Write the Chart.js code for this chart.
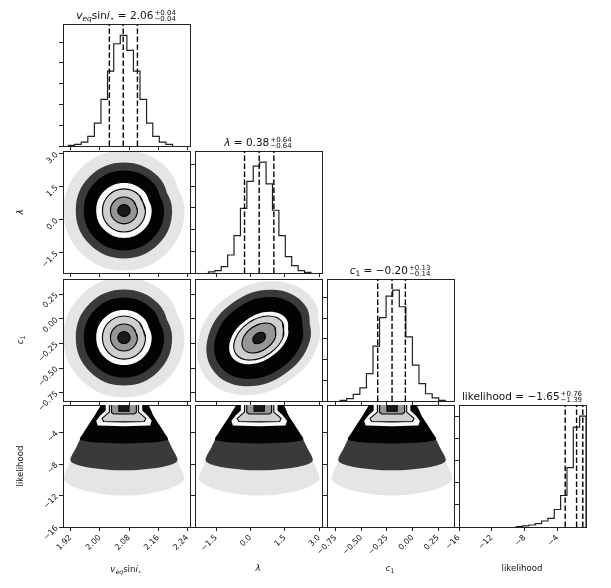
<!DOCTYPE html>
<html>
<head>
<meta charset="utf-8">
<title>corner plot</title>
<script src="https://cdn.jsdelivr.net/npm/chart.js@4.4.1/dist/chart.umd.min.js"></script>
<style>
  body { margin: 0; background: #fff; }
  #fig { position: relative; width: 611px; height: 588px; overflow: hidden; font-family: "DejaVu Sans", sans-serif; color: #111; }
  #fig canvas { position: absolute; }
  .ttl { position: absolute; font-size: 10.5px; line-height: 12px; white-space: nowrap; transform: translateX(-50%); }
  .pm { display: inline-block; font-size: 7px; line-height: 6px; vertical-align: -1.5px; margin-left: 1px; }
  .pm span { display: block; }
  .lab { position: absolute; font-size: 8.6px; line-height: 10px; white-space: nowrap; transform: translate(-50%, -50%); }
  .rot { transform: translate(-50%, -50%) rotate(-90deg); }
  sub { font-size: 0.72em; vertical-align: -0.3em; line-height: 0; }
</style>
</head>
<body>
<div id="fig">
  <div class="ttl" style="left:126px;top:9px"><i>v</i><sub><i>eq</i></sub>sin<i>i</i><sub>⋆</sub> = 2.06<span class="pm"><span>+0.04</span><span>−0.04</span></span></div>
  <div class="ttl" style="left:258px;top:136px"><i>λ</i> = 0.38<span class="pm"><span>+0.64</span><span>−0.64</span></span></div>
  <div class="ttl" style="left:390px;top:264px"><i>c</i><sub>1</sub> = −0.20<span class="pm"><span>+0.13</span><span>−0.14</span></span></div>
  <div class="ttl" style="left:522px;top:390px">likelihood = −1.65<span class="pm"><span>+0.76</span><span>−1.39</span></span></div>

  <div class="lab" style="left:126px;top:569px"><i>v</i><sub><i>eq</i></sub>sin<i>i</i><sub>⋆</sub></div>
  <div class="lab" style="left:258px;top:568px"><i>λ</i></div>
  <div class="lab" style="left:390px;top:568px"><i>c</i><sub>1</sub></div>
  <div class="lab" style="left:522px;top:568px">likelihood</div>

  <div class="lab rot" style="left:20px;top:212px"><i>λ</i></div>
  <div class="lab rot" style="left:20px;top:340px"><i>c</i><sub>1</sub></div>
  <div class="lab rot" style="left:20px;top:466px">likelihood</div>
</div>
<script>
// axes
var vsiniRange = [1.899, 2.247];
var lambdaRange = [-2.42, 3.12];
var c1Range = [-0.835, 0.405];
var likeRange = [-16, -0.5];

var vsiniTicks = [1.92, 2.00, 2.08, 2.16, 2.24];
var vsiniLabels = ['1.92', '2.00', '2.08', '2.16', '2.24'];
var lambdaTicks = [-1.5, 0.0, 1.5, 3.0];
var lambdaLabels = ['\u22121.5', '0.0', '1.5', '3.0'];
var c1Ticks = [-0.75, -0.50, -0.25, 0.00, 0.25];
var c1Labels = ['\u22120.75', '\u22120.50', '\u22120.25', '0.00', '0.25'];
var likeTicks = [-16, -12, -8, -4];
var likeLabels = ['\u221216', '\u221212', '\u22128', '\u22124'];
var histTicks = [0, 1000, 2000, 3000, 4000, 5000];

// 1d histograms
var vsiniEdges = [1.914, 1.931, 1.949, 1.967, 1.985, 2.003, 2.021, 2.038, 2.056, 2.074, 2.092, 2.110, 2.128, 2.145, 2.163, 2.181, 2.199];
var vsiniCounts = [30, 80, 190, 460, 1100, 2240, 3600, 4920, 5320, 4600, 3600, 2240, 1100, 460, 190, 80];
var vsiniQuant = [2.026, 2.064, 2.103];
var vsiniTop = 5870;

var lambdaEdges = [-1.835, -1.556, -1.276, -0.997, -0.717, -0.438, -0.158, 0.121, 0.401, 0.680, 0.960, 1.239, 1.519, 1.798, 2.078, 2.357, 2.637];
var lambdaCounts = [50, 110, 290, 830, 1720, 2980, 4220, 4920, 5110, 4110, 2890, 1720, 750, 340, 110, 30];
var lambdaQuant = [-0.26, 0.38, 1.02];
var lambdaTop = 5620;

var c1Edges = [-0.707, -0.643, -0.579, -0.514, -0.450, -0.386, -0.322, -0.258, -0.193, -0.129, -0.065, -0.001, 0.063, 0.127, 0.192, 0.256, 0.320];
var c1Counts = [30, 110, 320, 630, 1320, 2650, 4030, 5060, 5350, 4550, 3100, 1730, 840, 350, 150, 30];
var c1Quant = [-0.34, -0.20, -0.07];
var c1Top = 5890;

var likeEdges = [-9.025, -8.25, -7.475, -6.70, -5.925, -5.15, -4.375, -3.60, -2.825, -2.05, -1.275, -0.50];
var likeCounts = [20, 50, 90, 150, 270, 390, 790, 1420, 2680, 4500, 5000];
var likeQuant = [-3.04, -1.65, -0.89];
var likeTop = 5500;

// 2d panels: outer scatter cloud, dense cloud, solid core, then the contour levels
// (round outlines repeat their first two vertices so the curve closes smoothly)
var vlFuzz = [[2.232,0.42],[2.183,2.35],[2.066,3.15],[1.949,2.35],[1.900,0.42],[1.949,-1.51],[2.066,-2.31],[2.183,-1.51],[2.232,0.42],[2.183,2.35]];
var vlHaze = [[2.198,0.42],[2.160,1.96],[2.066,2.60],[1.972,1.96],[1.934,0.42],[1.972,-1.12],[2.066,-1.76],[2.160,-1.12],[2.198,0.42],[2.160,1.96]];
var vlCore = [[2.176,0.42],[2.144,1.71],[2.066,2.24],[1.988,1.71],[1.956,0.42],[1.988,-0.87],[2.066,-1.40],[2.144,-0.87],[2.176,0.42],[2.144,1.71]];
var vlLev0 = [[2.142,0.42],[2.120,1.30],[2.066,1.67],[2.012,1.30],[1.990,0.42],[2.012,-0.46],[2.066,-0.83],[2.120,-0.46],[2.142,0.42],[2.120,1.30]];
var vlLev1 = [[2.125,0.42],[2.108,1.11],[2.066,1.40],[2.024,1.11],[2.007,0.42],[2.024,-0.27],[2.066,-0.56],[2.108,-0.27],[2.125,0.42],[2.108,1.11]];
var vlLev2 = [[2.103,0.42],[2.092,0.85],[2.066,1.03],[2.040,0.85],[2.029,0.42],[2.040,-0.01],[2.066,-0.19],[2.092,-0.01],[2.103,0.42],[2.092,0.85]];
var vlLev3 = [[2.083,0.42],[2.078,0.61],[2.066,0.69],[2.054,0.61],[2.049,0.42],[2.054,0.23],[2.066,0.15],[2.078,0.23],[2.083,0.42],[2.078,0.61]];

var vcFuzz = [[2.232,-0.19],[2.183,0.241],[2.066,0.42],[1.949,0.241],[1.900,-0.19],[1.949,-0.621],[2.066,-0.80],[2.183,-0.621],[2.232,-0.19],[2.183,0.241]];
var vcHaze = [[2.198,-0.19],[2.160,0.155],[2.066,0.298],[1.972,0.155],[1.934,-0.19],[1.972,-0.535],[2.066,-0.678],[2.160,-0.535],[2.198,-0.19],[2.160,0.155]];
var vcCore = [[2.176,-0.19],[2.144,0.097],[2.066,0.217],[1.988,0.097],[1.956,-0.19],[1.988,-0.477],[2.066,-0.597],[2.144,-0.477],[2.176,-0.19],[2.144,0.097]];
var vcLev0 = [[2.142,-0.19],[2.120,0.008],[2.066,0.09],[2.012,0.008],[1.990,-0.19],[2.012,-0.388],[2.066,-0.47],[2.120,-0.388],[2.142,-0.19],[2.120,0.008]];
var vcLev1 = [[2.125,-0.19],[2.108,-0.036],[2.066,0.029],[2.024,-0.036],[2.007,-0.19],[2.024,-0.345],[2.066,-0.409],[2.108,-0.345],[2.125,-0.19],[2.108,-0.036]];
var vcLev2 = [[2.103,-0.19],[2.092,-0.093],[2.066,-0.053],[2.040,-0.093],[2.029,-0.19],[2.040,-0.287],[2.066,-0.327],[2.092,-0.287],[2.103,-0.19],[2.092,-0.093]];
var vcLev3 = [[2.083,-0.19],[2.078,-0.147],[2.066,-0.129],[2.054,-0.147],[2.049,-0.19],[2.054,-0.233],[2.066,-0.251],[2.078,-0.233],[2.083,-0.19],[2.078,-0.147]];

var lcFuzz = [[2.757,0.190],[2.989,-0.229],[1.693,-0.628],[-0.372,-0.773],[-1.997,-0.580],[-2.229,-0.161],[-0.933,0.238],[1.132,0.383],[2.757,0.190],[2.989,-0.229]];
var lcHaze = [[2.397,0.132],[2.591,-0.223],[1.491,-0.561],[-0.260,-0.685],[-1.637,-0.522],[-1.831,-0.167],[-0.731,0.171],[1.020,0.295],[2.397,0.132],[2.591,-0.223]];
var lcCore = [[2.109,0.085],[2.263,-0.215],[1.314,-0.503],[-0.182,-0.611],[-1.349,-0.475],[-1.503,-0.175],[-0.554,0.113],[0.942,0.221],[2.109,0.085],[2.263,-0.215]];
var lcLev0 = [[1.569,-0.003],[1.613,-0.188],[0.935,-0.378],[-0.068,-0.461],[-0.809,-0.387],[-0.853,-0.202],[-0.175,-0.012],[0.828,0.071],[1.569,-0.003],[1.613,-0.188]];
var lcLev1 = [[1.388,-0.032],[1.423,-0.188],[0.847,-0.349],[-0.003,-0.419],[-0.628,-0.358],[-0.663,-0.202],[-0.087,-0.041],[0.763,0.029],[1.388,-0.032],[1.423,-0.188]];
var lcLev2 = [[1.064,-0.084],[1.087,-0.190],[0.696,-0.299],[0.119,-0.347],[-0.304,-0.306],[-0.327,-0.200],[0.064,-0.091],[0.641,-0.043],[1.064,-0.084],[1.087,-0.190]];
var lcLev3 = [[0.632,-0.154],[0.647,-0.196],[0.506,-0.237],[0.291,-0.253],[0.128,-0.236],[0.113,-0.194],[0.254,-0.153],[0.469,-0.137],[0.632,-0.154],[0.647,-0.196]];

var vkFuzz = [[2.010,0],[1.984,-2],[1.956,-4],[1.934,-6],[1.916,-8],[1.902,-10],[1.946,-11.2],[2.006,-11.8],[2.066,-12],[2.126,-11.8],[2.186,-11.2],[2.230,-10],[2.216,-8],[2.198,-6],[2.176,-4],[2.148,-2],[2.122,0],[2.010,0]];
var vkHaze = [[2.010,0],[1.984,-2],[1.956,-4],[1.934,-6],[1.920,-7.6],[1.966,-8.4],[2.066,-8.8],[2.166,-8.4],[2.212,-7.6],[2.198,-6],[2.176,-4],[2.148,-2],[2.122,0],[2.010,0]];
var vkCore = [[2.010,0],[1.984,-2],[1.956,-4],[1.946,-4.9],[2.006,-5.3],[2.066,-5.4],[2.126,-5.3],[2.186,-4.9],[2.176,-4],[2.148,-2],[2.122,0],[2.010,0]];
var vkLev0 = [[2.016,0],[2.016,-1.2],[2.002,-1.8],[1.990,-2.5],[1.994,-3.1],[2.066,-3.2],[2.138,-3.1],[2.142,-2.5],[2.130,-1.8],[2.116,-1.2],[2.116,0],[2.016,0]];
var vkLev1 = [[2.026,0],[2.026,-1.4],[2.006,-2.2],[2.010,-2.6],[2.066,-2.65],[2.122,-2.6],[2.126,-2.2],[2.106,-1.4],[2.106,0],[2.026,0]];
var vkLev2 = [[2.032,0],[2.032,-1.45],[2.038,-1.65],[2.094,-1.65],[2.100,-1.45],[2.100,0],[2.032,0]];
var vkLev3 = [[2.052,0],[2.052,-1.3],[2.080,-1.3],[2.080,0],[2.052,0]];

var lkFuzz = [[-0.513,0],[-0.928,-2],[-1.375,-4],[-1.725,-6],[-2.013,-8],[-2.236,-10],[-1.534,-11.2],[-0.577,-11.8],[0.38,-12],[1.337,-11.8],[2.294,-11.2],[2.996,-10],[2.773,-8],[2.485,-6],[2.135,-4],[1.688,-2],[1.273,0],[-0.513,0]];
var lkHaze = [[-0.513,0],[-0.928,-2],[-1.375,-4],[-1.725,-6],[-1.949,-7.6],[-1.215,-8.4],[0.38,-8.8],[1.975,-8.4],[2.709,-7.6],[2.485,-6],[2.135,-4],[1.688,-2],[1.273,0],[-0.513,0]];
var lkCore = [[-0.513,0],[-0.928,-2],[-1.375,-4],[-1.534,-4.9],[-0.577,-5.3],[0.38,-5.4],[1.337,-5.3],[2.294,-4.9],[2.135,-4],[1.688,-2],[1.273,0],[-0.513,0]];
var lkLev0 = [[-0.418,0],[-0.418,-1.2],[-0.641,-1.8],[-0.832,-2.5],[-0.768,-3.1],[0.38,-3.2],[1.528,-3.1],[1.592,-2.5],[1.401,-1.8],[1.178,-1.2],[1.178,0],[-0.418,0]];
var lkLev1 = [[-0.258,0],[-0.258,-1.4],[-0.577,-2.2],[-0.513,-2.6],[0.38,-2.65],[1.273,-2.6],[1.337,-2.2],[1.018,-1.4],[1.018,0],[-0.258,0]];
var lkLev2 = [[-0.162,0],[-0.162,-1.45],[-0.067,-1.65],[0.827,-1.65],[0.922,-1.45],[0.922,0],[-0.162,0]];
var lkLev3 = [[0.157,0],[0.157,-1.3],[0.603,-1.3],[0.603,0],[0.157,0]];

var ckFuzz = [[-0.400,0],[-0.493,-2],[-0.593,-4],[-0.672,-6],[-0.736,-8],[-0.786,-10],[-0.629,-11.2],[-0.415,-11.8],[-0.200,-12],[0.015,-11.8],[0.229,-11.2],[0.386,-10],[0.336,-8],[0.272,-6],[0.193,-4],[0.093,-2],[0.000,0],[-0.400,0]];
var ckHaze = [[-0.400,0],[-0.493,-2],[-0.593,-4],[-0.672,-6],[-0.722,-7.6],[-0.558,-8.4],[-0.200,-8.8],[0.158,-8.4],[0.322,-7.6],[0.272,-6],[0.193,-4],[0.093,-2],[0.000,0],[-0.400,0]];
var ckCore = [[-0.400,0],[-0.493,-2],[-0.593,-4],[-0.629,-4.9],[-0.415,-5.3],[-0.200,-5.4],[0.015,-5.3],[0.229,-4.9],[0.193,-4],[0.093,-2],[0.000,0],[-0.400,0]];
var ckLev0 = [[-0.379,0],[-0.379,-1.2],[-0.429,-1.8],[-0.472,-2.5],[-0.457,-3.1],[-0.200,-3.2],[0.057,-3.1],[0.072,-2.5],[0.029,-1.8],[-0.021,-1.2],[-0.021,0],[-0.379,0]];
var ckLev1 = [[-0.343,0],[-0.343,-1.4],[-0.415,-2.2],[-0.400,-2.6],[-0.200,-2.65],[0.000,-2.6],[0.015,-2.2],[-0.057,-1.4],[-0.057,0],[-0.343,0]];
var ckLev2 = [[-0.322,0],[-0.322,-1.45],[-0.300,-1.65],[-0.100,-1.65],[-0.078,-1.45],[-0.078,0],[-0.322,0]];
var ckLev3 = [[-0.250,0],[-0.250,-1.3],[-0.150,-1.3],[-0.150,0],[-0.250,0]];

Chart.defaults.font.family = '"DejaVu Sans", sans-serif';
Chart.defaults.color = '#111';
Chart.defaults.animation = false;

var fig = document.getElementById('fig');
var colLeft = [63, 195, 327, 459];
var rowTop = [24, 151, 279, 405];
var panelW = 127, panelH = 122;

var layerFill = ['rgba(0,0,0,0.1)', 'rgba(0,0,0,0.75)', 'rgba(0,0,0,0.95)', '#fbfbfb', '#cfcfcf', '#969696', '#1a1a1a'];
var layerLine = [null, null, null, null, '#000', '#000', '#000'];
var roundBend = [0.4, 0.4, 0.4, 0.4, 0.4, 0.4, 0.4];
var fanBend = [0.3, 0.3, 0.3, 0, 0, 0, 0];

function pts(list) {
    return list.map(function (p) { return {x: p[0], y: p[1]}; });
}

// later datasets are drawn underneath, so the innermost level goes first
function density(layers, bend) {
    var sets = [];
    for (var i = layers.length - 1; i >= 0; i--) {
        sets.push({
            data: pts(layers[i]),
            showLine: true,
            fill: 'shape',
            pointRadius: 0,
            backgroundColor: layerFill[i],
            borderColor: layerLine[i] || 'rgba(0,0,0,0)',
            borderWidth: layerLine[i] ? 1.1 : 0,
            tension: bend[i]
        });
    }
    return sets;
}

function stepData(edges, counts) {
    var out = [{x: edges[0], y: 0}];
    for (var i = 0; i < counts.length; i++) out.push({x: edges[i], y: counts[i]});
    out.push({x: edges[edges.length - 1], y: counts[counts.length - 1]});
    out.push({x: edges[edges.length - 1], y: 0});
    return out;
}

function histSets(edges, counts, quant, top) {
    var sets = quant.map(function (q) {
        return {data: [{x: q, y: 0}, {x: q, y: top}], showLine: true, pointRadius: 0,
            borderColor: '#000', borderWidth: 1.4, borderDash: [5.5, 2.5]};
    });
    sets.push({data: stepData(edges, counts), showLine: true, stepped: true, pointRadius: 0,
        borderColor: '#222', borderWidth: 1.2});
    return sets;
}

function tickAxis(pos, ax, showLabels, size) {
    return {
        type: 'linear',
        position: pos,
        min: ax.range[0],
        max: ax.range[1],
        afterBuildTicks: function (s) {
            s.ticks = ax.ticks.map(function (v) { return {value: v}; });
        },
        afterFit: function (s) {
            if (pos === 'bottom') s.height = size; else s.width = size;
        },
        ticks: {
            display: showLabels && !!ax.labels,
            autoSkip: false,
            minRotation: 45,
            maxRotation: 45,
            padding: 2,
            color: '#111',
            font: {size: 8},
            callback: function (v, i) { return ax.labels ? ax.labels[i] : ''; }
        },
        grid: {display: true, drawOnChartArea: false, drawTicks: true, tickLength: 4, color: '#222', lineWidth: 1},
        border: {display: true, color: '#222', width: 1}
    };
}

function edgeAxis(pos, size) {
    return {
        type: 'linear',
        position: pos,
        afterFit: function (s) {
            if (pos === 'top') s.height = size; else s.width = size;
        },
        ticks: {display: false},
        grid: {display: false, drawTicks: false},
        border: {display: true, color: '#222', width: 1}
    };
}

function addPanel(col, row, xAx, yAx, datasets) {
    var mL = col === 0 ? 63 : 40;
    var mB = row === 3 ? 62 : 12;
    var mT = 12, mR = 12;
    var cv = document.createElement('canvas');
    cv.width = mL + panelW + mR;
    cv.height = mT + panelH + mB;
    cv.style.left = (colLeft[col] - mL) + 'px';
    cv.style.top = (rowTop[row] - mT) + 'px';
    fig.insertBefore(cv, fig.firstChild);
    new Chart(cv, {
        type: 'scatter',
        data: {datasets: datasets},
        options: {
            responsive: false,
            animation: false,
            layout: {padding: 0},
            elements: {point: {radius: 0}, line: {capBezierPoints: false}},
            plugins: {legend: {display: false}, tooltip: {enabled: false}},
            scales: {
                x: tickAxis('bottom', xAx, row === 3, mB),
                y: tickAxis('left', yAx, col === 0 && row > 0, mL),
                x2: edgeAxis('top', mT),
                y2: edgeAxis('right', mR)
            }
        }
    });
}

var axVsini = {range: vsiniRange, ticks: vsiniTicks, labels: vsiniLabels};
var axLambda = {range: lambdaRange, ticks: lambdaTicks, labels: lambdaLabels};
var axC1 = {range: c1Range, ticks: c1Ticks, labels: c1Labels};
var axLike = {range: likeRange, ticks: likeTicks, labels: likeLabels};
function histAx(top) { return {range: [0, top], ticks: histTicks, labels: null}; }

addPanel(0, 0, axVsini, histAx(vsiniTop), histSets(vsiniEdges, vsiniCounts, vsiniQuant, vsiniTop));
addPanel(1, 1, axLambda, histAx(lambdaTop), histSets(lambdaEdges, lambdaCounts, lambdaQuant, lambdaTop));
addPanel(2, 2, axC1, histAx(c1Top), histSets(c1Edges, c1Counts, c1Quant, c1Top));
addPanel(3, 3, axLike, histAx(likeTop), histSets(likeEdges, likeCounts, likeQuant, likeTop));

addPanel(0, 1, axVsini, axLambda, density([vlFuzz, vlHaze, vlCore, vlLev0, vlLev1, vlLev2, vlLev3], roundBend));
addPanel(0, 2, axVsini, axC1, density([vcFuzz, vcHaze, vcCore, vcLev0, vcLev1, vcLev2, vcLev3], roundBend));
addPanel(1, 2, axLambda, axC1, density([lcFuzz, lcHaze, lcCore, lcLev0, lcLev1, lcLev2, lcLev3], roundBend));
addPanel(0, 3, axVsini, axLike, density([vkFuzz, vkHaze, vkCore, vkLev0, vkLev1, vkLev2, vkLev3], fanBend));
addPanel(1, 3, axLambda, axLike, density([lkFuzz, lkHaze, lkCore, lkLev0, lkLev1, lkLev2, lkLev3], fanBend));
addPanel(2, 3, axC1, axLike, density([ckFuzz, ckHaze, ckCore, ckLev0, ckLev1, ckLev2, ckLev3], fanBend));
</script>
</body>
</html>
